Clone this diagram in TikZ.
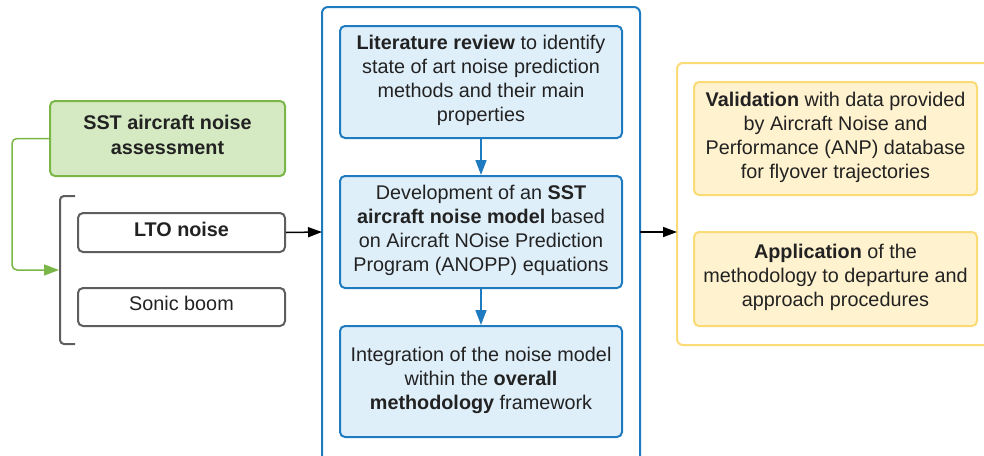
\documentclass[tikz,border=0pt]{standalone}
\usepackage{fontspec}
\setmainfont{Liberation Sans}
\usetikzlibrary{arrows.meta}
\definecolor{txt}{HTML}{222222}
\definecolor{gfill}{HTML}{D5EAC3}
\definecolor{gline}{HTML}{7AB648}
\definecolor{bline}{HTML}{1F7BC0}
\definecolor{bfill}{HTML}{DFEFFA}
\definecolor{yline}{HTML}{FBDB75}
\definecolor{yfill}{HTML}{FFF2CE}
\definecolor{gray}{HTML}{5E5E5E}
\tikzset{
  every node/.style={font=\fontsize{19.8}{24}\selectfont, text=txt},
  basebox/.style={rectangle, rounded corners=5pt, line width=2pt, align=center, inner sep=0pt, text depth=7pt},
  greenbox/.style={basebox, draw=gline, fill=gfill},
  graybox/.style={basebox, draw=gray, fill=white},
  bluebox/.style={basebox, draw=bline, fill=bfill, minimum width=282pt, minimum height=112pt},
  yellowbox/.style={basebox, draw=yline, fill=yfill, minimum width=283pt},
  arr/.style={line width=1.5pt, -{Triangle[length=14pt,width=10pt]}},
  colarr/.style={line width=1.5pt, -{Triangle[length=15pt,width=11pt]}},
}
\begin{document}
\begin{tikzpicture}[x=1pt,y=-1pt]
\useasboundingbox (0,0) rectangle (984,455);
% outer containers
\draw[bline, line width=2pt, rounded corners=6pt] (322,470) -- (322,7) -- (640,7) -- (640,470);
\draw[yline, line width=2pt, rounded corners=6pt] (995,63) -- (677,63) -- (677,345) -- (995,345);
\coordinate (midL) at (322,232);
\coordinate (midR) at (640,232);
\coordinate (yelL) at (677,232);
% left
\node[greenbox, minimum width=235pt, minimum height=75pt, font=\fontsize{19.8}{25}\selectfont\bfseries] (sst) at (167.5,138.5) {SST aircraft noise\\assessment};
\node[graybox, minimum width=207pt, minimum height=39pt, font=\fontsize{19.8}{24}\selectfont\bfseries] (lto) at (181.5,232.5) {LTO noise};
\node[graybox, minimum width=207pt, minimum height=38pt] (sonic) at (181.5,307) {Sonic boom};
\draw[gray, line width=2pt, rounded corners=4pt] (75,196) -- (60,196) -- (60,344) -- (75,344);
\coordinate (brk) at (59,270);
\draw[gline, colarr, rounded corners=5pt] (sst.west) -- (12,138.5) -- (12,270) -- (brk);
% middle
\node[bluebox] (lit) at (481,82) {\textbf{Literature review} to identify\\state of art noise prediction\\methods and their main\\properties};
\node[bluebox] (dev) at (481,232) {Development of an \textbf{SST}\\\textbf{aircraft noise model} based\\on Aircraft NOise Prediction\\Program (ANOPP) equations};
\node[bluebox, minimum height=111pt] (int) at (481,381.5) {Integration of the noise model\\within the \textbf{overall}\\\textbf{methodology} framework};
\draw[bline, colarr] (lit.south) -- (dev.north);
\draw[bline, colarr] (dev.south) -- (int.north);
% right
\node[yellowbox, minimum height=113pt] (val) at (835.5,138.5) {\textbf{Validation} with data provided\\by Aircraft Noise and\\Performance (ANP) database\\for flyover trajectories};
\node[yellowbox, minimum height=94pt] (app) at (835.5,279) {\textbf{Application} of the\\methodology to departure and\\approach procedures};
% arrows
\draw[arr] (lto.east) -- (midL);
\draw[arr] (midR) -- (yelL);
\end{tikzpicture}
\end{document}
